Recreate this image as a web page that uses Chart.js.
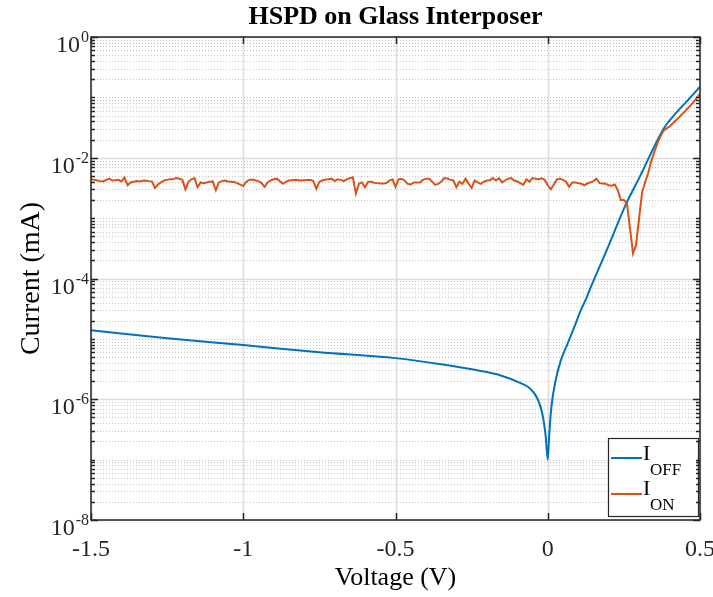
<!DOCTYPE html>
<html>
<head>
<meta charset="utf-8">
<script src="https://cdn.jsdelivr.net/npm/chart.js@4.4.1/dist/chart.umd.min.js"></script>
<style>
html, body { margin: 0; padding: 0; background: #fff; }
#wrap { width: 713px; height: 597px; }
</style>
</head>
<body>
<div id="wrap"><canvas id="chart" width="713" height="597"></canvas></div>
<script>
// I_OFF: smooth dark curve, sampled where it bends
const vOff = [-1.5, -1.25, -1.0, -0.75, -0.5, -0.35, -0.22, -0.157, -0.091, -0.058, -0.034, -0.018, -0.0066, 0,
  0.0044, 0.012, 0.026, 0.043, 0.065, 0.087, 0.108, 0.128, 0.141, 0.2, 0.254, 0.3, 0.381, 0.411, 0.45, 0.5];
const iOff = [1.39e-5, 1.02e-5, 7.9e-6, 6.0e-6, 4.8e-6, 3.8e-6, 2.94e-6, 2.5e-6, 1.87e-6, 1.51e-6, 1.03e-6, 5.8e-7, 2.4e-7, 1.0e-7,
  2.4e-7, 7.5e-7, 2.07e-6, 4.4e-6, 8.3e-6, 1.56e-5, 2.94e-5, 4.86e-5, 7.1e-5, 3.5e-4, 1.58e-3, 4.6e-3, 3.06e-2, 4.8e-2, 7.9e-2, 0.15];

// I_ON: sweep from -1.5 V in 10 mV steps, values in uA
const V_START = -1.5;
const V_STEP = 0.01;
const iOnMicro = [
  4.4, 4.3, 4.2, 4.1, 4.05, 4.3, 4.5, 4.2, 4.25, 4.3,
  4.05, 4.7, 3.5, 3.9, 4.0, 4.1, 4.05, 4.15, 4.2, 4.1,
  4.05, 3.15, 3.6, 3.9, 4.2, 4.3, 4.4, 4.45, 4.6, 4.5,
  4.3, 3.0, 4.0, 4.4, 4.6, 3.25, 3.9, 3.8, 3.9, 4.0,
  4.05, 2.9, 3.9, 4.1, 4.2, 4.05, 4.0, 3.95, 3.8, 3.6,
  3.4, 4.0, 4.3, 4.35, 4.2, 4.1, 3.8, 3.3, 3.9, 4.2,
  4.4, 4.5, 4.1, 3.7, 4.0, 4.2, 4.25, 4.3, 4.25, 4.2,
  4.25, 4.3, 4.3, 4.1, 3.05, 4.0, 4.2, 4.35, 4.4, 4.5,
  4.1, 4.4, 4.3, 4.1, 4.4, 4.6, 4.75, 2.55, 3.7, 3.9,
  3.25, 4.0, 4.0, 3.85, 3.8, 3.75, 3.75, 3.8, 4.2, 4.4,
  3.3, 4.4, 4.5, 4.2, 3.7, 3.6, 3.9, 3.9, 3.9, 4.3,
  4.5, 4.5, 4.05, 3.55, 3.7, 4.0, 4.6, 4.55, 4.3, 4.2,
  3.25, 4.0, 3.7, 4.5, 3.7, 3.15, 4.2, 3.9, 3.7, 4.0,
  4.2, 4.25, 4.6, 4.2, 4.6, 3.9, 4.2, 4.5, 4.6, 4.2,
  4.05, 3.8, 3.55, 4.4, 4.0, 4.6, 4.5, 4.4, 4.55, 4.3,
  3.5, 3.0, 3.6, 4.4, 4.5, 4.3, 4.0, 3.3, 3.9, 3.9,
  3.8, 3.7, 3.5, 3.75, 3.9, 4.1, 4.5, 3.8, 3.75, 3.7,
  3.5, 3.45, 3.6, 2.9, 2.0, 2.0, 1.75, 0.68, 0.26, 0.36,
  1.0, 2.7, 3.95, 5.6, 8.8, 12.5, 17.3, 22.5, 27.9, 30.5,
  33, 37, 41.5, 46, 52, 58, 66, 75, 85, 99,
  115
];

const xTicks = [-1.5, -1, -0.5, 0, 0.5];
const xTickLabels = ["-1.5", "-1", "-0.5", "0", "0.5"];
const yDecades = [0, -2, -4, -6, -8];
const yTickLabels = ["0", "-2", "-4", "-6", "-8"];
const seriesLabels = [["I", "OFF"], ["I", "ON"]];

const BLUE = "#0072BD";
const ORANGE = "#D95319";
const AX = "#262626";
const SERIF = '"Liberation Serif", "Times New Roman", serif';

const offPts = vOff.map((v, i) => ({ x: v, y: iOff[i] }));
const onPts = iOnMicro.map((u, i) => ({ x: +(V_START + V_STEP * i).toFixed(2), y: u / 1000 }));

function hLine(ctx, area, y, dash, color, w){
  ctx.save();
  ctx.strokeStyle = color;
  ctx.lineWidth = w;
  ctx.setLineDash(dash);
  ctx.beginPath();
  ctx.moveTo(area.left, Math.round(y) + 0.5);
  ctx.lineTo(area.right, Math.round(y) + 0.5);
  ctx.stroke();
  ctx.restore();
}

const matlabAxes = {
  id: "matlabAxes",
  beforeDatasetsDraw(chart){
    const { ctx, chartArea: a, scales: { x, y } } = chart;
    // minor grid (dotted)
    for (let k = -8; k < 0; k++){
      for (let m = 1; m <= 9; m++){
        if (m === 1 && k % 2 === 0) continue;
        hLine(ctx, a, y.getPixelForValue(m * Math.pow(10, k)), [1, 2], "#c8c8c8", 1);
      }
    }
    // major grid
    yDecades.forEach((d) => hLine(ctx, a, y.getPixelForValue(Math.pow(10, d)), [], "#dcdcdc", 1.5));
    ctx.save();
    ctx.strokeStyle = "#dcdcdc";
    ctx.lineWidth = 1.5;
    xTicks.forEach((t) => {
      const px = Math.round(x.getPixelForValue(t)) + 0.5;
      ctx.beginPath();
      ctx.moveTo(px, a.top);
      ctx.lineTo(px, a.bottom);
      ctx.stroke();
    });
    ctx.restore();
  },
  afterDatasetsDraw(chart){
    const { ctx, chartArea: a, scales: { x, y } } = chart;
    ctx.save();
    // legend
    const lg = { l: 608, t: 438, r: 698, b: 516 };
    ctx.fillStyle = "#fff";
    ctx.fillRect(lg.l, lg.t, lg.r - lg.l, lg.b - lg.t);
    ctx.strokeStyle = AX;
    ctx.lineWidth = 1.2;
    ctx.strokeRect(lg.l + 0.5, lg.t + 0.5, lg.r - lg.l, lg.b - lg.t);
    const rows = [{ c: BLUE, ly: 458, by: 460, sy: 475 }, { c: ORANGE, ly: 494, by: 495, sy: 510 }];
    rows.forEach((r, i) => {
      ctx.strokeStyle = r.c;
      ctx.lineWidth = 2;
      ctx.beginPath();
      ctx.moveTo(611, r.ly);
      ctx.lineTo(642, r.ly);
      ctx.stroke();
      ctx.fillStyle = "#000";
      ctx.textAlign = "left";
      ctx.textBaseline = "alphabetic";
      ctx.font = `22px ${SERIF}`;
      ctx.fillText(seriesLabels[i][0], 643, r.by);
      ctx.font = `17px ${SERIF}`;
      ctx.fillText(seriesLabels[i][1], 650, r.sy);
    });

    // box
    ctx.strokeStyle = AX;
    ctx.lineWidth = 1.5;
    ctx.strokeRect(a.left, a.top, a.right - a.left, a.bottom - a.top);

    // ticks
    ctx.lineWidth = 1.5;
    ctx.beginPath();
    for (let k = -8; k <= 0; k++){
      for (let m = 1; m <= 9; m++){
        if (k === 0 && m > 1) break;
        const v = m * Math.pow(10, k);
        const py = Math.round(y.getPixelForValue(v)) + 0.5;
        const len = (m === 1 && k % 2 === 0) ? 7 : 4;
        ctx.moveTo(a.left, py); ctx.lineTo(a.left + len, py);
        ctx.moveTo(a.right, py); ctx.lineTo(a.right - len, py);
      }
    }
    xTicks.forEach((t) => {
      const px = Math.round(x.getPixelForValue(t)) + 0.5;
      ctx.moveTo(px, a.bottom); ctx.lineTo(px, a.bottom - 7);
      ctx.moveTo(px, a.top); ctx.lineTo(px, a.top + 7);
    });
    ctx.stroke();

    // x tick labels
    ctx.fillStyle = AX;
    ctx.textAlign = "center";
    ctx.textBaseline = "alphabetic";
    ctx.font = `24px ${SERIF}`;
    xTicks.forEach((t, i) => ctx.fillText(xTickLabels[i], x.getPixelForValue(t), 556));

    // y tick labels 10^n
    yDecades.forEach((d, i) => {
      const py = y.getPixelForValue(Math.pow(10, d));
      ctx.font = `16px ${SERIF}`;
      const ew = ctx.measureText(yTickLabels[i]).width;
      ctx.textAlign = "left";
      ctx.fillText(yTickLabels[i], 89 - ew, py + 5);
      ctx.font = `24px ${SERIF}`;
      ctx.textAlign = "right";
      ctx.fillText("10", 89 - ew - 1, py + 15);
    });

    // axis labels and title
    ctx.fillStyle = "#000";
    ctx.textAlign = "center";
    ctx.font = `26px ${SERIF}`;
    ctx.fillText("Voltage (V)", (a.left + a.right) / 2, 585);
    ctx.save();
    ctx.font = `28px ${SERIF}`;
    ctx.translate(39, (a.top + a.bottom) / 2);
    ctx.rotate(-Math.PI / 2);
    ctx.fillText("Current (mA)", 0, 0);
    ctx.restore();
    ctx.font = `bold 26px ${SERIF}`;
    ctx.fillText("HSPD on Glass Interposer", (a.left + a.right) / 2, 24);
    ctx.restore();
  },
};

new Chart(document.getElementById("chart"), {
  type: "line",
  data: {
    datasets: [
      { label: "I_OFF", data: offPts, borderColor: BLUE, borderWidth: 2, pointRadius: 0, cubicInterpolationMode: "monotone", order: 1 },
      { label: "I_ON", data: onPts, borderColor: ORANGE, borderWidth: 2, pointRadius: 0, tension: 0, order: 0 },
    ],
  },
  options: {
    responsive: false,
    animation: false,
    devicePixelRatio: 1,
    layout: { padding: { left: 91, right: 13, top: 37, bottom: 77 } },
    plugins: { legend: { display: false }, tooltip: { enabled: false } },
    scales: {
      x: { type: "linear", min: -1.5, max: 0.5, display: false },
      y: { type: "logarithmic", min: 1e-8, max: 1, display: false },
    },
  },
  plugins: [matlabAxes],
});
</script>
</body>
</html>
